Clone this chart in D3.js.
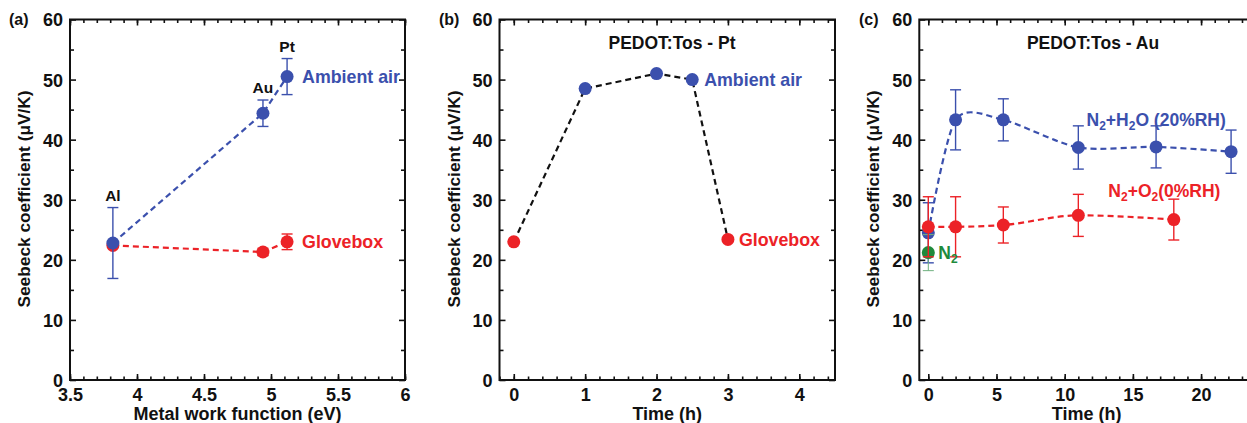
<!DOCTYPE html>
<html>
<head>
<meta charset="utf-8">
<script src="https://cdn.jsdelivr.net/npm/d3@7"></script>
<style>
  body { margin: 0; background: #fff; }
  svg text { font-family: "Liberation Sans", Arial, sans-serif; font-weight: bold; }
</style>
</head>
<body>
<div id="chart"></div>
<script>
// (a) Seebeck vs metal work function
const metals = ["Al", "Au", "Pt"];
const workFunction = [3.82, 4.94, 5.12];
const airSeebeck = [22.8, 44.4, 50.5];
const airErr = [5.9, 2.2, 3.0];
const gloveSeebeck = [22.4, 21.3, 23.0];
const gloveErr = [0, 0.6, 1.3];

// (b) PEDOT:Tos - Pt vs time
const timeB = [0, 1, 2, 2.5, 3];
const seebeckB = [23.0, 48.5, 51.0, 50.0, 23.4];
const conditionB = ["glove", "air", "air", "air", "glove"];

// (c) PEDOT:Tos - Au vs time
const timeH2O = [0, 2, 5.5, 11, 16.7, 22.2];
const h2oSeebeck = [24.5, 43.3, 43.3, 38.7, 38.8, 38.0];
const h2oErr = [5.0, 5.0, 3.5, 3.6, 3.5, 3.6];
const timeO2 = [0, 2, 5.5, 11, 18];
const o2Seebeck = [25.5, 25.5, 25.8, 27.4, 26.7];
const o2Err = [5.0, 5.0, 3.0, 3.5, 3.4];
const timeN2 = [0];
const n2Seebeck = [21.2];
const n2Err = [3.0];

const yTicks = [0, 10, 20, 30, 40, 50, 60];

const BLUE = "#3b50ad", RED = "#ec2227", GREEN = "#1f8a3c";

const W = 1247, H = 423;
const plotTop = 19.5, plotBottom = 380;

const svg = d3.select("#chart").append("svg")
    .attr("width", W)
    .attr("height", H);

const y = d3.scaleLinear().domain([0, 60]).range([plotBottom, plotTop]);

function frame(g, x, majors, minors, fmt) {
    const left = x.range()[0], right = x.range()[1];

    // minor ticks
    g.append("g").attr("transform", "translate(0," + plotBottom + ")")
        .call(d3.axisBottom(x).tickValues(minors).tickSize(-3.5).tickFormat(""));
    g.append("g").attr("transform", "translate(0," + plotTop + ")")
        .call(d3.axisTop(x).tickValues(minors).tickSize(-3.5).tickFormat(""));
    g.append("g").attr("transform", "translate(" + left + ",0)")
        .call(d3.axisLeft(y).tickValues([5, 15, 25, 35, 45, 55]).tickSize(-4).tickFormat(""));
    g.append("g").attr("transform", "translate(" + right + ",0)")
        .call(d3.axisRight(y).tickValues([5, 15, 25, 35, 45, 55]).tickSize(-4).tickFormat(""));

    // major ticks with labels
    g.append("g").attr("class", "xlab").attr("transform", "translate(0," + plotBottom + ")")
        .call(d3.axisBottom(x).tickValues(majors).tickSize(-6).tickPadding(8).tickFormat(fmt));
    g.append("g").attr("transform", "translate(0," + plotTop + ")")
        .call(d3.axisTop(x).tickValues(majors).tickSize(-6).tickFormat(""));
    g.append("g").attr("class", "ylab").attr("transform", "translate(" + left + ",0)")
        .call(d3.axisLeft(y).tickValues(yTicks).tickSize(-6).tickPadding(7));
    g.append("g").attr("transform", "translate(" + right + ",0)")
        .call(d3.axisRight(y).tickValues(yTicks).tickSize(-6).tickFormat(""));

    g.selectAll(".domain").remove();
    g.selectAll(".tick line").attr("stroke", "#111").attr("stroke-width", 1.6);
    g.selectAll(".tick text").attr("fill", "#111")
        .style("font-family", "'Liberation Sans', Arial, sans-serif")
        .style("font-weight", "bold")
        .style("font-size", "18px");
    g.selectAll(".xlab .tick text").attr("dy", "0.71em");
    g.selectAll(".ylab .tick text").attr("dy", "0.36em");

    g.append("rect")
        .attr("x", left).attr("y", plotTop)
        .attr("width", right - left).attr("height", plotBottom - plotTop)
        .attr("fill", "none").attr("stroke", "#111").attr("stroke-width", 2);
}

function yTitle(g, cx) {
    g.append("text")
        .attr("transform", "translate(" + cx + "," + 199 + ") rotate(-90)")
        .attr("text-anchor", "middle")
        .style("font-size", "17.3px")
        .attr("fill", "#111")
        .text("Seebeck coefficient (μV/K)");
}

function xTitle(g, x, text) {
    const r = x.range();
    g.append("text")
        .attr("x", (r[0] + r[1]) / 2)
        .attr("y", 420)
        .attr("text-anchor", "middle")
        .style("font-size", "18px")
        .attr("fill", "#111")
        .text(text);
}

function panelTag(g, px, tag) {
    g.append("text").attr("x", px).attr("y", 25)
        .style("font-size", "16px").attr("fill", "#111").text(tag);
}

function errorBars(g, x, xs, ys, es, color, width) {
    const cap = 5.5;
    const pts = xs.map((d, i) => ({x: xs[i], y: ys[i], e: es[i]})).filter(d => d.e > 0);
    const eb = g.append("g").attr("stroke", color).attr("stroke-width", width || 1.4).attr("fill", "none");
    pts.forEach(d => {
        const cx = x(d.x);
        eb.append("line").attr("x1", cx).attr("x2", cx).attr("y1", y(d.y - d.e)).attr("y2", y(d.y + d.e));
        eb.append("line").attr("x1", cx - cap).attr("x2", cx + cap).attr("y1", y(d.y + d.e)).attr("y2", y(d.y + d.e));
        eb.append("line").attr("x1", cx - cap).attr("x2", cx + cap).attr("y1", y(d.y - d.e)).attr("y2", y(d.y - d.e));
    });
}

function dashed(g, x, xs, ys, color, curve) {
    const line = d3.line()
        .x(d => x(d[0]))
        .y(d => y(d[1]))
        .curve(curve || d3.curveLinear);
    g.append("path")
        .datum(xs.map((d, i) => [d, ys[i]]))
        .attr("d", line)
        .attr("fill", "none")
        .attr("stroke", color)
        .attr("stroke-width", 2.2)
        .attr("stroke-dasharray", "6,4");
}

function dots(g, x, xs, ys, color) {
    g.selectAll(null)
        .data(xs.map((d, i) => [d, ys[i]]))
        .enter().append("circle")
        .attr("cx", d => x(d[0]))
        .attr("cy", d => y(d[1]))
        .attr("r", 6.5)
        .attr("fill", color);
}

// parts: plain strings, or {lower: "2"} for a subscript
function label(g, px, py, color, parts, size, anchor) {
    const t = g.append("text")
        .attr("x", px).attr("y", py)
        .attr("fill", color)
        .attr("text-anchor", anchor || "start")
        .style("font-size", (size || 17) + "px");
    let shift = 0;
    parts.forEach(p => {
        if (typeof p === "object") {
            t.append("tspan").attr("dy", 4.5 - shift).style("font-size", "12px").text(p.lower);
            shift = 4.5;
        } else {
            const s = t.append("tspan").text(p);
            if (shift) s.attr("dy", -shift);
            shift = 0;
        }
    });
}

// ---------- panel (a)
const xa = d3.scaleLinear().domain([3.5, 6]).range([70, 405]);
const ga = svg.append("g");
yTitle(ga, 30);
xTitle(ga, xa, "Metal work function (eV)");
panelTag(ga, 9, "(a)");
frame(ga, xa, [3.5, 4, 4.5, 5, 5.5, 6], d3.range(35, 61).map(d => d / 10), d => d);

dashed(ga, xa, workFunction, gloveSeebeck, RED);
dashed(ga, xa, workFunction, airSeebeck, BLUE);
errorBars(ga, xa, workFunction, gloveSeebeck, gloveErr, RED);
dots(ga, xa, workFunction, gloveSeebeck, RED);
errorBars(ga, xa, workFunction, airSeebeck, airErr, BLUE);
dots(ga, xa, workFunction, airSeebeck, BLUE);

metals.forEach((m, i) => {
    label(ga, xa(workFunction[i]), y(airSeebeck[i] + airErr[i]) - 7, "#111", [m], 15.5, "middle");
});
label(ga, xa(workFunction[2]) + 15, y(airSeebeck[2]) + 6.5, BLUE, ["Ambient air"], 17.8);
label(ga, xa(workFunction[2]) + 15, y(gloveSeebeck[2]) + 6.5, RED, ["Glovebox"], 17.8);

// ---------- panel (b)
const xb = d3.scaleLinear().domain([-0.2, 4.5]).range([499.5, 835]);
const gb = svg.append("g");
yTitle(gb, 459.5);
xTitle(gb, xb, "Time (h)");
panelTag(gb, 439, "(b)");
frame(gb, xb, [0, 1, 2, 3, 4], d3.range(-1, 23).map(d => d / 5), d => d);

dashed(gb, xb, timeB, seebeckB, "#111");
timeB.forEach((t, i) => {
    dots(gb, xb, [t], [seebeckB[i]], conditionB[i] === "air" ? BLUE : RED);
});
label(gb, 672, 49, "#111", ["PEDOT:Tos - Pt"], 17.5, "middle");
label(gb, xb(2.5) + 12, y(50) + 6.5, BLUE, ["Ambient air"], 17.8);
label(gb, xb(3) + 11, y(23.4) + 6.5, RED, ["Glovebox"], 17.8);

// ---------- panel (c)
const xc = d3.scaleLinear().domain([-0.66, 23.88]).range([919.3, 1254]);
const gc = svg.append("g");
yTitle(gc, 879);
xTitle(gc, xc, "Time (h)");
panelTag(gc, 859, "(c)");
frame(gc, xc, [0, 5, 10, 15, 20], d3.range(0, 24), d => d);

dashed(gc, xc, timeH2O, h2oSeebeck, BLUE, d3.curveCardinal.tension(0.2));
dashed(gc, xc, timeO2, o2Seebeck, RED, d3.curveMonotoneX);
errorBars(gc, xc, timeH2O, h2oSeebeck, h2oErr, BLUE);
dots(gc, xc, timeH2O, h2oSeebeck, BLUE);
errorBars(gc, xc, timeN2, n2Seebeck, n2Err, "#6fb07f", 1);
dots(gc, xc, timeN2, n2Seebeck, GREEN);
errorBars(gc, xc, timeO2, o2Seebeck, o2Err, RED);
dots(gc, xc, timeO2, o2Seebeck, RED);

label(gc, 1093, 49, "#111", ["PEDOT:Tos - Au"], 17.5, "middle");
label(gc, xc(11.6), y(43.3) + 6, BLUE, ["N", {lower: "2"}, "+H", {lower: "2"}, "O (20%RH)"], 17.5);
label(gc, xc(13.2), y(31.5) + 6, RED, ["N", {lower: "2"}, "+O", {lower: "2"}, "(0%RH)"], 17.5);
label(gc, xc(0) + 10, y(n2Seebeck[0]) + 6, GREEN, ["N", {lower: "2"}], 17.5);
</script>
</body>
</html>
